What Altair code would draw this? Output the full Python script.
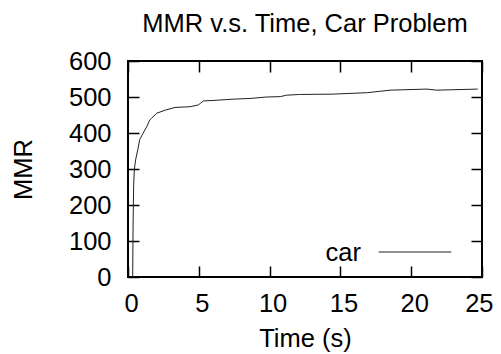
import altair as alt
import pandas as pd

# data
time_s = [0.33, 0.36, 0.40, 0.45, 0.55, 0.70, 0.83, 1.06, 1.32, 1.53, 1.67, 2.03,
          2.67, 3.32, 4.38, 4.97, 5.10, 5.33, 6.27, 7.4, 8.63, 9.8, 10.75, 11.2,
          12.1, 14.5, 16.9, 18.5, 21.1, 21.8, 24.7]
mmr = [0, 150, 255, 300, 328, 355, 382, 399, 417, 436, 441, 455,
       464, 471, 473, 478, 482, 489, 491, 494, 496, 500, 501, 505,
       507, 508, 512, 519, 522, 519, 522]
series_name = "car"
x_ticks = [0, 5, 10, 15, 20, 25]
y_ticks = [0, 100, 200, 300, 400, 500, 600]

df = pd.DataFrame({"t": time_s, "mmr": mmr, "series": [series_name] * len(time_s)})
legend_df = pd.DataFrame({"series": [series_name]})

FONT = "Liberation Sans"
FS = 25.5
TICK = 11
LINE = "#222222"

xs = alt.Scale(domain=[0, 25], nice=False, zero=False)
ys = alt.Scale(domain=[0, 600], nice=False)

last_x = "datum.value == %d" % x_ticks[-1]

main = alt.Chart(df).mark_line(strokeWidth=1, color=LINE).encode(
    x=alt.X("t:Q", scale=xs, title="Time (s)",
            axis=alt.Axis(orient="bottom", values=x_ticks, offset=-TICK, tickSize=TICK,
                          domain=False, labelPadding=14, labelFlush=False,
                          labelAlign=alt.condition(last_x, alt.value("right"), alt.value("center")),
                          labelOffset=alt.condition(last_x, alt.value(11), alt.value(3)),
                          labelOverlap=False, titleY=80, titleBaseline="alphabetic",
                          grid=False)),
    y=alt.Y("mmr:Q", scale=ys, title="MMR",
            axis=alt.Axis(orient="left", values=y_ticks, offset=-TICK, tickSize=TICK,
                          domain=False, labelPadding=17, labelFlush=False,
                          labelOverlap=False, titleX=-116, titleY=108,
                          titleBaseline="middle", grid=False)),
)

mirror = alt.Chart(df).mark_line(strokeOpacity=0).encode(
    x=alt.X("t:Q", scale=xs, title=None,
            axis=alt.Axis(orient="top", values=x_ticks, offset=-TICK, tickSize=TICK,
                          domain=False, labels=False, grid=False)),
    y=alt.Y("mmr:Q", scale=ys, title=None,
            axis=alt.Axis(orient="right", values=y_ticks, offset=-TICK, tickSize=TICK,
                          domain=False, labels=False, grid=False)),
)

legend_text = alt.Chart(legend_df).mark_text(
    align="right", baseline="alphabetic", font=FONT, fontSize=FS, color="black"
).encode(text="series:N", x=alt.value(233), y=alt.value(200))

legend_line = alt.Chart(legend_df).mark_rule(strokeWidth=1, color=LINE).encode(
    x=alt.value(250.6), x2=alt.value(323.3), y=alt.value(191)
)

chart = alt.layer(main, mirror, legend_text, legend_line).resolve_scale(
    x="independent", y="independent"
).properties(
    width=354, height=216,
    autosize="none",
    padding={"left": 120, "top": 53, "right": 11, "bottom": 77},
    title=alt.TitleParams("MMR v.s. Time, Car Problem", font=FONT, fontSize=FS,
                          fontWeight="normal", color="black", offset=12),
).configure_view(stroke="black", strokeWidth=2).configure_axis(
    labelFont=FONT, labelFontSize=FS, labelColor="black",
    titleFont=FONT, titleFontSize=FS, titleFontWeight="normal", titleColor="black",
    tickColor="black", tickWidth=1.5,
)

chart.save("out.html", embed_options={"renderer": "svg", "actions": False})
